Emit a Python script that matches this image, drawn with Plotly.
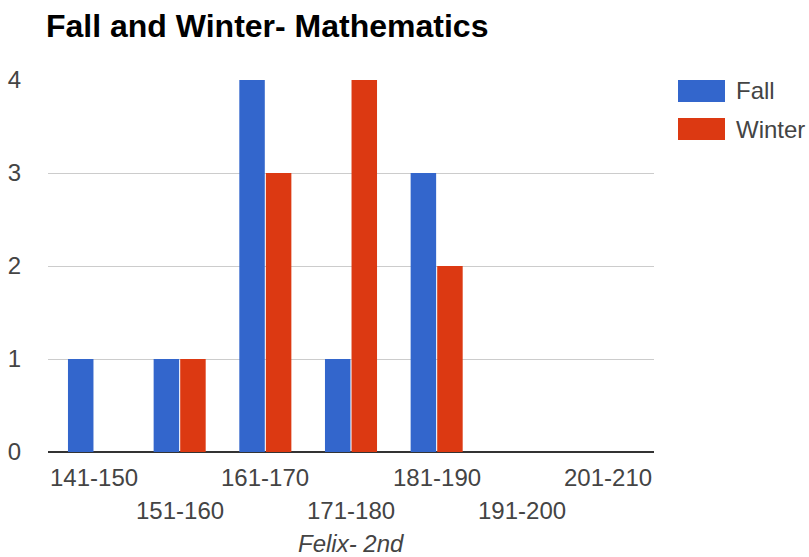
import plotly.graph_objects as go

# Score bands and the number of students in each band
bands = ["141-150", "151-160", "161-170", "171-180", "181-190", "191-200", "201-210"]
fall = [1, 1, 4, 1, 3, 0, 0]
winter = [0, 1, 3, 4, 2, 0, 0]
y_ticks = [0, 1, 2, 3, 4]

FALL_COLOR = "#3366cc"
WINTER_COLOR = "#dc3912"
FONT = "Liberation Sans, Arial, sans-serif"
TEXT_COLOR = "#444"

fig = go.Figure()
fig.add_trace(go.Bar(x=bands, y=fall, name="Fall", marker_color=FALL_COLOR,
                     marker_line_width=0, showlegend=False))
fig.add_trace(go.Bar(x=bands, y=winter, name="Winter", marker_color=WINTER_COLOR,
                     marker_line_width=0, showlegend=False))

# Category labels alternate between two rows
for i, b in enumerate(bands):
    fig.add_annotation(x=b, y=0, xref="x", yref="paper", text=b, showarrow=False,
                       yanchor="middle", yshift=-25 if i % 2 == 0 else -58,
                       font=dict(family=FONT, size=24, color=TEXT_COLOR))

# Axis title
fig.add_annotation(x=0.5, y=0, xref="paper", yref="paper", text="<i>Felix- 2nd</i>",
                   showarrow=False, yanchor="middle", yshift=-91,
                   font=dict(family=FONT, size=24, color=TEXT_COLOR))

# Legend drawn as swatches with labels
legend_items = [("Fall", FALL_COLOR), ("Winter", WINTER_COLOR)]
for k, (name, color) in enumerate(legend_items):
    y_top = 80 + k * 38
    fig.add_shape(type="rect", xref="paper", yref="paper",
                  x0=(678 - 48) / 606, x1=(725 - 48) / 606,
                  y0=(452 - y_top) / 372, y1=(452 - y_top - 22) / 372,
                  fillcolor=color, line=dict(width=0))
    fig.add_annotation(x=(734 - 48) / 606, y=(452 - y_top - 11) / 372,
                       xref="paper", yref="paper", text=name, showarrow=False,
                       xanchor="left", yanchor="middle",
                       font=dict(family=FONT, size=24, color=TEXT_COLOR))

fig.update_layout(
    width=809, height=557,
    margin=dict(l=48, r=155, t=80, b=105),
    paper_bgcolor="white", plot_bgcolor="white",
    barmode="group", bargap=0.38, bargroupgap=0.04,
    title=dict(text="<b>Fall and Winter- Mathematics</b>", x=46 / 809, xanchor="left",
               y=1 - 26 / 557, yanchor="middle",
               font=dict(family=FONT, size=32, color="#000")),
    font=dict(family=FONT, size=24, color=TEXT_COLOR),
)
fig.update_xaxes(showticklabels=False, showgrid=False, ticks="", showline=False,
                 automargin=False)
fig.update_yaxes(range=[0, 4], tickvals=y_ticks, showgrid=True, gridcolor="#cccccc",
                 gridwidth=1, zeroline=True, zerolinecolor="#333333", zerolinewidth=2,
                 ticks="", ticklabelstandoff=26, automargin=False,
                 tickfont=dict(family=FONT, size=24, color=TEXT_COLOR))

fig.write_html("out.html")
